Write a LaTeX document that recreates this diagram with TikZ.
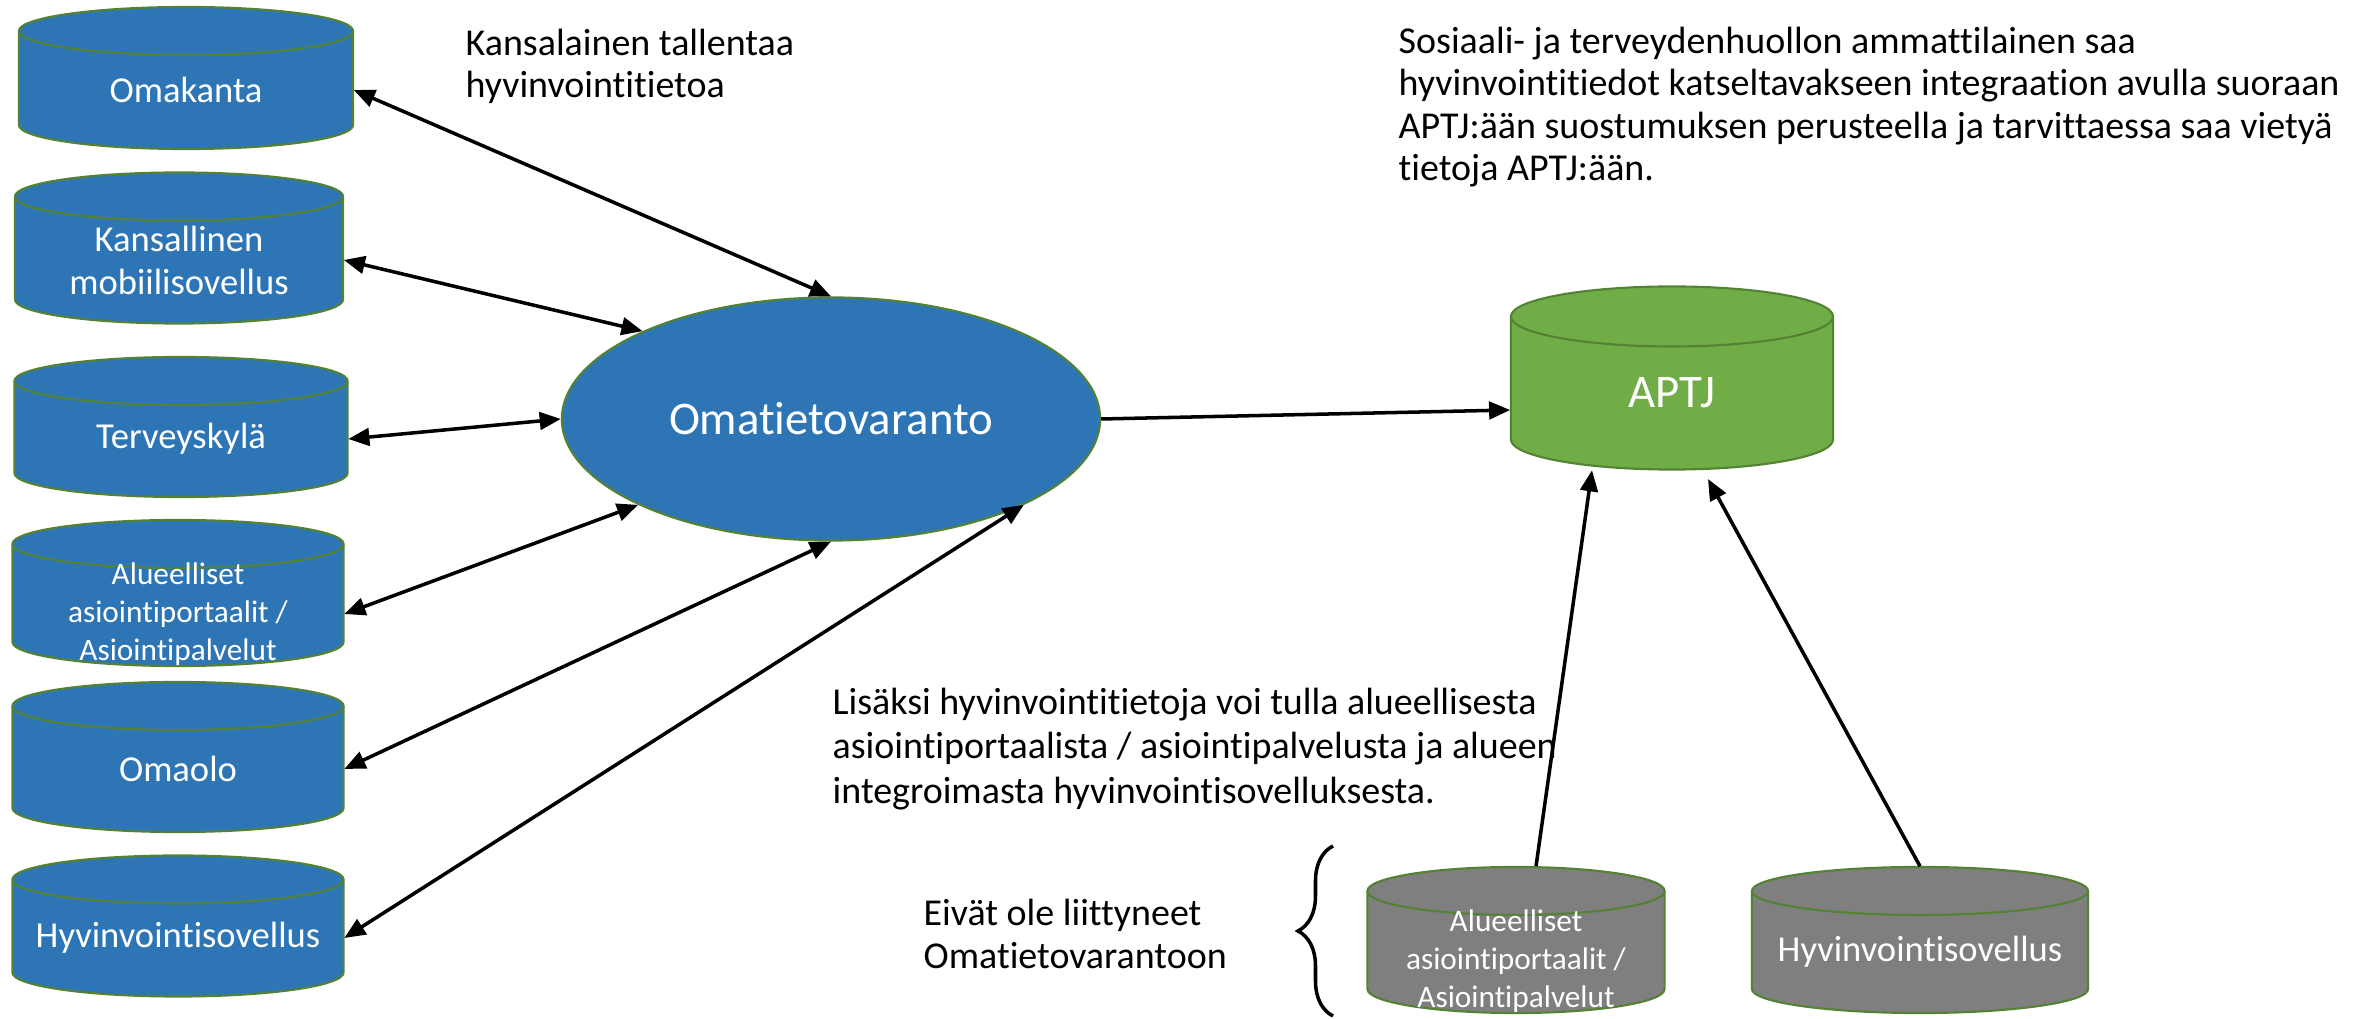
\documentclass[tikz,border=0pt]{standalone}
\usepackage{fontspec}
\setmainfont{Carlito}[Ligatures=NoCommon]
\usetikzlibrary{arrows.meta, positioning, shapes.geometric, decorations.pathreplacing}

\definecolor{dbblue}{RGB}{46,117,182}
\definecolor{dbgreen}{RGB}{112,173,71}
\definecolor{dbgray}{RGB}{127,127,127}
\definecolor{rimgreen}{RGB}{84,130,53}

% [#1 text options] #2 style, #3 name, #4 centre, #5 half width, #6 half height, #7 cap radius, #8 text
\newcommand{\can}[8][]{%
  \begin{scope}[shift={#4}]
    \filldraw[#2] (-#5,#6-#7) -- (-#5,-#6+#7)
      arc[start angle=180, end angle=360, x radius=#5, y radius=#7]
      -- (#5,#6-#7)
      arc[start angle=0, end angle=180, x radius=#5, y radius=#7] -- cycle;
    \draw[#2, fill=none] (-#5,#6-#7)
      arc[start angle=180, end angle=360, x radius=#5, y radius=#7];
    \node[cantext, minimum width=2*#5, minimum height=2*#6-#7, #1] (#3) at (0cm,-0.5*#7) {#8};
  \end{scope}}

\tikzset{
  db/.style={draw=rimgreen, line width=0.6pt, fill=dbblue},
  cantext/.style={rectangle, inner sep=0pt, align=center, text=white,
    font=\fontsize{10.4}{12.2}\selectfont},
  smalltext/.style={font=\fontsize{8.9}{10.9}\selectfont, yshift=-0.09cm},
  bigtext/.style={font=\fontsize{13.3}{15}\selectfont},
  store/.style={ellipse, draw=rimgreen, line width=0.6pt, fill=dbblue,
    text=white, font=\fontsize{13.3}{15}\selectfont},
  note/.style={align=left, inner sep=0pt, anchor=west,
    font=\fontsize{10.8}{12}\selectfont},
  link/.style={{Triangle[length=6pt,width=5pt]}-{Triangle[length=6pt,width=5pt]}, line width=1pt},
  flow/.style={-{Triangle[length=6pt,width=5pt]}, line width=1pt}
}

\begin{document}
\begin{tikzpicture}[x=0.01cm, y=-0.01cm]
\useasboundingbox (0,0) rectangle (2362,1019);

% sources on the left
\can{db}{omakanta}{(186,78)}{1.67cm}{0.71cm}{0.24cm}{Omakanta}
\can{db}{kansallinen}{(179,248)}{1.64cm}{0.755cm}{0.24cm}{Kansallinen\\mobiilisovellus}
\can{db}{terveys}{(181,427)}{1.665cm}{0.70cm}{0.24cm}{Terveyskylä}
\can[smalltext]{db}{alue}{(178,593)}{1.655cm}{0.73cm}{0.24cm}{Alueelliset\\asiointiportaalit /\\Asiointipalvelut}
\can{db}{omaolo}{(178,757)}{1.655cm}{0.75cm}{0.24cm}{Omaolo}
\can{db}{hyvin}{(178,926)}{1.655cm}{0.705cm}{0.24cm}{Hyvinvointisovellus}

\node[store, minimum width=5.38cm, minimum height=2.43cm] (omt) at (831,419) {Omatietovaranto};

% APTJ and the unconnected ones
\can[bigtext]{db, fill=dbgreen}{aptj}{(1672,378)}{1.61cm}{0.915cm}{0.30cm}{APTJ}
\can[smalltext]{db, fill=dbgray}{galu}{(1516,940)}{1.485cm}{0.73cm}{0.24cm}{Alueelliset\\asiointiportaalit /\\Asiointipalvelut}
\can{db, fill=dbgray}{ghyv}{(1920,940)}{1.68cm}{0.73cm}{0.24cm}{Hyvinvointisovellus}

\draw[link] (omakanta.east) -- (omt.north);
\draw[link] (kansallinen.east) -- (omt.155);
\draw[link] (terveys.east) -- (omt.west);
\draw[link] (alue.east) -- (omt.204);
\draw[link] (omaolo.east) -- (omt.south);
\draw[link] (hyvin.east) -- (omt.336);

\draw[flow] (omt.east) -- (aptj.186);
\draw[flow] ([shift={(0.2cm,0.33cm)}]galu.north) -- (aptj.224);
\draw[flow, shorten >=0.1cm] ([yshift=0.24cm]ghyv.north) -- (aptj.292);

% texts
\node[note] (tallentaa) at (465,66) {Kansalainen tallentaa\\hyvinvointitietoa};
\node[note] (ammattilainen) at (1398,107) {Sosiaali- ja terveydenhuollon ammattilainen saa\\hyvinvointitiedot katseltavakseen integraation avulla suoraan\\APTJ:ään suostumuksen perusteella ja tarvittaessa saa vietyä\\tietoja APTJ:ään.};
\node[note, font=\fontsize{10.8}{12.6}\selectfont] (lisaksi) at (832,749) {Lisäksi hyvinvointitietoja voi tulla alueellisesta\\asiointiportaalista / asiointipalvelusta ja alueen\\integroimasta hyvinvointisovelluksesta.};
\node[note] (eivat) at (923,934) {Eivät ole liittyneet\\Omatietovarantoon};

\draw[decorate, decoration={brace, amplitude=0.35cm}, line width=1pt] (1333,1016) -- (1333,846);
\end{tikzpicture}
\end{document}
